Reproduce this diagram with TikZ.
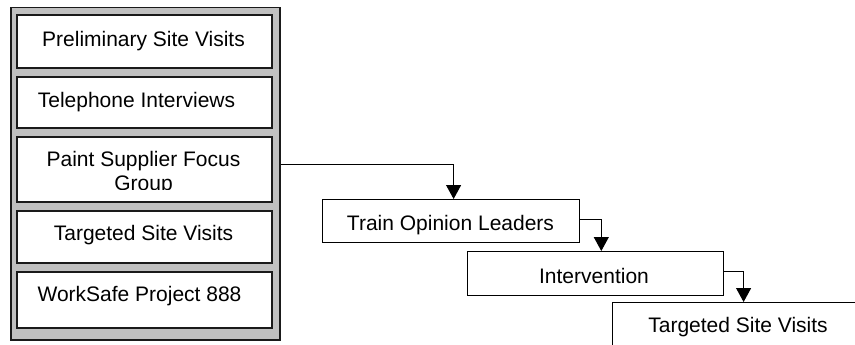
\documentclass[tikz,border=0pt]{standalone}
\usepackage{fontspec}
\setmainfont{Liberation Sans}
\usetikzlibrary{arrows.meta}
\definecolor{panelgray}{HTML}{C0C0C0}
\definecolor{edge}{HTML}{1A1A1A}
\tikzset{
  panel/.style={draw=edge, fill=panelgray, line width=1.5pt},
  stackbox/.style={draw=edge, fill=white, line width=1.6pt, inner sep=0pt,
    minimum width=255pt, anchor=north west},
  taskbox/.style={draw=black, fill=white, line width=1.2pt, inner sep=0pt,
    minimum width=257pt, minimum height=43pt, anchor=north west},
  lbl/.style={inner sep=0pt, anchor=base, font=\fontsize{21}{24}\selectfont},
  flow/.style={draw=black, line width=1.1pt,
    -{Triangle[length=14pt,width=15pt]}},
}
\begin{document}
\begin{tikzpicture}[x=1pt,y=-1pt]
\clip (0,0) rectangle (855,345);
\fill[white] (0,0) rectangle (855,345);

% left panel with the stacked activities
\node[panel, inner sep=0pt, minimum width=269pt, minimum height=332pt, anchor=north west] (frame) at (10,7) {};
\node[stackbox, minimum height=53pt] (b1) at (16,14) {};
\node[stackbox, minimum height=51pt] (b2) at (16,76) {};
\node[stackbox, minimum height=65pt] (b3) at (16,136) {};
\node[stackbox, minimum height=52pt] (b4) at (16,210) {};
\node[stackbox, minimum height=56pt] (b5) at (16,271) {};

\node[lbl] (t1) at (143.5,46.7) {Preliminary Site Visits};
\node[lbl] (t2) at (136.5,107.3) {Telephone Interviews};
\begin{scope}
  \clip (17,137) rectangle (270,189.5);
  \node[lbl] (t3a) at (143.5,166.7) {Paint Supplier Focus};
  \node[lbl] (t3b) at (143.5,190.7) {Group};
\end{scope}
\node[lbl] (t4) at (143.5,240.7) {Targeted Site Visits};
\node[lbl] (t5) at (139.5,301.7) {WorkSafe Project 888};

% staircase of follow-up tasks
\node[taskbox] (train) at (322,199) {};
\node[taskbox, minimum width=256pt, minimum height=44pt] (interv) at (467,251) {};
\node[taskbox, minimum width=256pt, minimum height=44pt] (tsv) at (612,302) {};

\node[lbl] (tt1) at (450.5,230) {Train Opinion Leaders};
\node[lbl] (tt2) at (594,283.3) {Intervention};
\node[lbl] (tt3) at (738,332.7) {Targeted Site Visits};

% connectors
\draw[flow] ([yshift=4.5pt]b3.center -| frame.east) -| ([xshift=2.5pt]train.north);
\draw[flow] ([yshift=1.5pt]train.east) -| ([xshift=5.7pt]interv.north);
\draw[flow] ([yshift=2pt]interv.east) -| ([xshift=3pt]tsv.north);
\end{tikzpicture}
\end{document}
